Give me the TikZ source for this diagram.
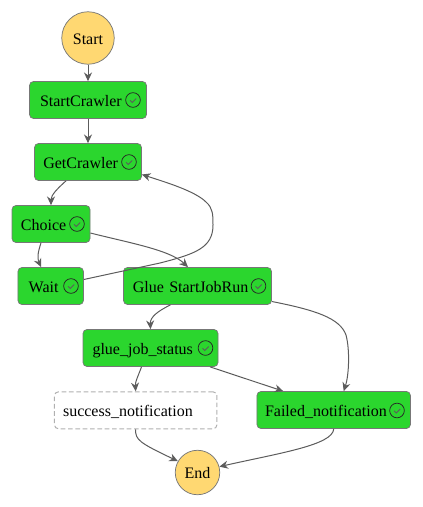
\documentclass[tikz,border=0pt]{standalone}
\usepackage{fontspec}
\setmainfont{Liberation Serif}
\usetikzlibrary{calc,arrows.meta}
\definecolor{okgreen}{HTML}{2BD62E}
\definecolor{termyellow}{HTML}{FFD872}
\definecolor{edgegrey}{HTML}{5C5C5C}
\definecolor{boxgrey}{HTML}{777777}
\definecolor{dashgrey}{HTML}{B0B0B0}
\tikzset{
  term/.style={circle,draw=boxgrey,line width=0.55pt,fill=termyellow,inner sep=0pt,minimum size=#1*0.75pt,font=\fontsize{12pt}{14pt}\selectfont,text=black,text height=9.5pt,text depth=0pt},
  txtbox/.style n args={3}{rectangle,rounded corners=3pt,align=left,font=\fontsize{12pt}{14pt}\selectfont,
    minimum width=#1*0.75pt,minimum height=27.75pt,text width=#3 pt,inner xsep=#2*0.75pt,inner ysep=0pt,text height=10.5pt,text depth=1pt},
  state/.style n args={3}{txtbox={#1}{#2}{#3},draw=boxgrey,line width=0.55pt,fill=okgreen},
  skipped/.style n args={3}{txtbox={#1}{#2}{#3},draw=dashgrey,line width=0.75pt,dash pattern=on 3.5pt off 2pt,fill=white},
  chk/.style={circle,draw=black!85,line width=0.55pt,inner sep=0pt,minimum size=11pt,
    path picture={\draw[edgegrey,line width=0.7pt] ($(path picture bounding box.center)+(-3,0.3)$) -- ++(2.2,2.2) -- ++(4,-4);}},
  conn/.style={draw=edgegrey,line width=0.75pt,-{Stealth[length=6.5pt,width=6pt]}},
}
\begin{document}
\begin{tikzpicture}[x=0.75pt,y=-0.75pt]
\useasboundingbox (0,0) rectangle (423,507);
\node[term=52.5] (start) at (88,38) {Start};
\node[state={117}{10.5}{72}] (sc) at (88,100) {StartCrawler};
\node[chk] (scc) at (133,100) {};
\node[state={107}{8.5}{67}] (gc) at (88,162) {GetCrawler};
\node[chk] (gcc) at (129,162) {};
\node[state={78}{8.5}{45}] (ch) at (51,224) {Choice};
\node[chk] (chc) at (77,224) {};
\node[state={65.5}{10.5}{33}] (wt) at (50.7,286) {Wait};
\node[chk] (wtc) at (71,286) {};
\node[state={148}{9}{97}] (gl) at (197.5,286) {Glue StartJobRun};
\node[chk] (glc) at (258.5,286) {};
\node[state={135}{9.5}{87}] (gs) at (150.5,348) {glue\_job\_status};
\node[chk] (gsc) at (205.5,348) {};
\node[skipped={162.5}{8.5}{109}] (su) at (135.7,410.3) {success\_notification};
\node[state={153.5}{8}{103}] (fa) at (333.7,410) {Failed\_notification};
\node[chk] (fac) at (397,410.5) {};
\node[term=44.5] (en) at (197.5,472.5) {End};
\draw[conn] (start) -- (sc.north -| start);
\draw[conn] (sc) -- (gc);
\draw[conn] ($(gc.south)+(-22,0)$) .. controls (58,188) and (51,195) .. ($(ch.north)+(0,0)$);
\draw[conn] ($(ch.south)+(-10,0)$) .. controls (38,252) and (37,258) .. ($(wt.north)+(-9.5,0)$);
\draw[conn] ($(ch.east)+(0,9)$) .. controls (130,243) and (170,250) .. ($(gl.north)+(-9.5,0)$);
\draw[conn] ($(wt.east)+(0,-6.5)$) -- (160,263) .. controls (195,254) and (213,248) .. (213,225) .. controls (213,215) and (213,208) .. (206,202) .. controls (195,191) and (165,182) .. ($(gc.east)+(0,12.5)$);
\draw[conn] ($(gl.south)+(-27,0)$) .. controls (158,311) and (150,317) .. ($(gs.north)+(0,0)$);
\draw[conn] ($(gl.east)+(0,15.5)$) .. controls (315,310) and (340,318) .. (346,335) .. controls (350,350) and (349,375) .. ($(fa.north)+(10,0)$);
\draw[conn] ($(gs.south)+(-9,0)$) .. controls (139,374) and (135,382) .. ($(su.north)+(0,0)$);
\draw[conn] ($(gs.south)+(59.5,0)$) -- ($(fa.north)+(-50.5,0)$);
\draw[conn] ($(su.south)+(0,0)$) .. controls (135,440) and (140,443) .. (en.150);
\draw[conn] ($(fa.south)+(0,0)$) .. controls (333,445) and (280,453) .. (en.15);
\end{tikzpicture}
\end{document}
